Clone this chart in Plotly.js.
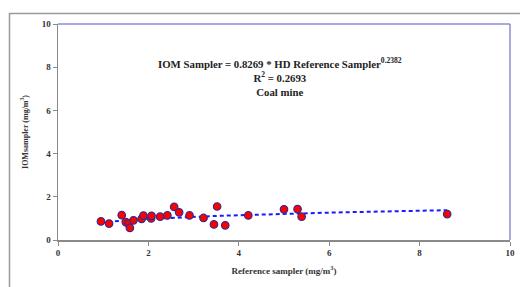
<!DOCTYPE html>
<html>
<head>
<meta charset="utf-8">
<script src="https://cdn.plot.ly/plotly-3.0.1.min.js"></script>
<style>
html,body{margin:0;padding:0;background:#fff;}
#chart{width:520px;height:287px;}
</style>
</head>
<body>
<div id="chart"></div>
<script>
// Reference sampler (mg/m3) vs IOM sampler (mg/m3), coal mine
const refSampler = [0.95, 1.13, 1.41, 1.50, 1.56, 1.59, 1.67, 1.85, 1.89, 2.06, 2.07, 2.26, 2.42, 2.57, 2.68, 2.91, 3.22, 3.45, 3.52, 3.70, 4.21, 5.00, 5.30, 5.39, 8.61];
const iomSampler = [0.86, 0.76, 1.15, 0.83, 0.76, 0.56, 0.91, 0.98, 1.13, 1.00, 1.12, 1.08, 1.14, 1.53, 1.28, 1.14, 1.02, 0.72, 1.55, 0.68, 1.14, 1.42, 1.43, 1.08, 1.20];
// Power trend line stated on the chart: y = a * x^b
const trendCoef = [0.8269];
const trendExp = [0.2382];
const axisTicks = [0, 2, 4, 6, 8, 10];

const xs = refSampler.slice().sort((a, b) => a - b);
const trendX = [xs[0], xs[xs.length - 1]];
const nT = 40;
const tx = [], ty = [];
for (let i = 0; i <= nT; i++) {
  const x = trendX[0] + (trendX[1] - trendX[0]) * i / nT;
  tx.push(x);
  ty.push(trendCoef[0] * Math.pow(x, trendExp[0]));
}

const serif = 'Liberation Serif, Times New Roman, serif';

const traces = [
  {
    x: tx, y: ty, type: 'scatter', mode: 'lines',
    line: {color: '#1a1aff', width: 2, dash: '4px,3px'},
    hoverinfo: 'skip', showlegend: false
  },
  {
    x: refSampler, y: iomSampler, type: 'scatter', mode: 'markers',
    marker: {color: '#ff0000', size: 7.5, line: {color: '#3a2a8a', width: 1.2}},
    showlegend: false
  }
];

const L = 58, R = 10, T = 24, B = 47, W = 520, H = 287;
const pw = W - L - R, ph = H - T - B;
const px = v => (v - L) / pw;
const py = v => (H - B - v) / ph;

const layout = {
  width: W, height: H,
  margin: {l: L, r: R, t: T, b: B},
  paper_bgcolor: '#ffffff', plot_bgcolor: '#ffffff',
  showlegend: false,
  font: {family: serif, color: '#222222'},
  xaxis: {
    range: [0, 10], tickvals: axisTicks, ticktext: axisTicks.map(String),
    showgrid: false, zeroline: false,
    showline: true, linecolor: '#8a8a8a', linewidth: 1.5,
    ticks: 'outside', ticklen: 4, tickcolor: '#8a8a8a', tickwidth: 1,
    tickfont: {family: serif, size: 9, color: '#333333', weight: 'bold'},
    title: {text: '<b>Reference sampler (mg/m<sup>3</sup>)</b>', font: {family: serif, size: 9, color: '#333333'}, standoff: 10}
  },
  yaxis: {
    range: [0, 10], tickvals: axisTicks, ticktext: axisTicks.map(String),
    showgrid: false, zeroline: false,
    showline: true, linecolor: '#8a8a8a', linewidth: 1.5,
    ticks: 'outside', ticklen: 4, tickcolor: '#8a8a8a', tickwidth: 1,
    tickfont: {family: serif, size: 9, color: '#333333', weight: 'bold'},
    title: {text: '<b>IOMsampler (mg/m<sup>3</sup>)</b>', font: {family: serif, size: 8, color: '#333333'}, standoff: 12}
  },
  annotations: [
    {
      xref: 'paper', yref: 'paper', x: px(280), y: py(77), xanchor: 'center', yanchor: 'middle',
      text: '<b>IOM Sampler = 0.8269 * HD Reference Sampler<sup>0.2382</sup><br>R<sup>2</sup> = 0.2693<br>Coal mine</b>',
      showarrow: false, align: 'center',
      font: {family: serif, size: 10.8, color: '#222222'}
    }
  ],
  shapes: [
    // outer chart frame (left and top edges)
    {type: 'line', xref: 'paper', yref: 'paper', x0: px(9.5), x1: px(9.5), y0: py(13), y1: py(290), line: {color: '#9a9a9a', width: 1.5}},
    {type: 'line', xref: 'paper', yref: 'paper', x0: px(9.5), x1: px(522), y0: py(13.5), y1: py(13.5), line: {color: '#9a9a9a', width: 1.5}},
    // plot area top and right border
    {type: 'line', xref: 'paper', yref: 'paper', x0: 0, x1: 1, y0: 1, y1: 1, line: {color: '#8c8cd2', width: 1.5}},
    {type: 'line', xref: 'paper', yref: 'paper', x0: 1, x1: 1, y0: 0, y1: 1, line: {color: '#8c8cd2', width: 1.5}}
  ]
};

Plotly.newPlot('chart', traces, layout, {displayModeBar: false, staticPlot: true});
</script>
</body>
</html>
